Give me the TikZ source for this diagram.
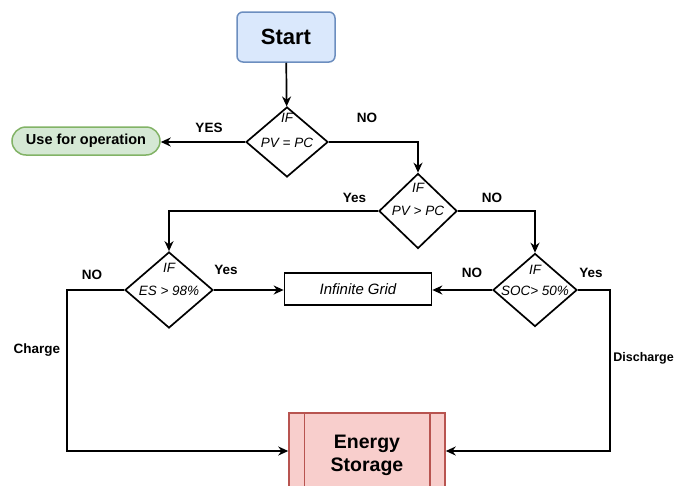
\documentclass[tikz,border=0pt]{standalone}
\usepackage{fontspec}
\setmainfont{Liberation Sans}
\usetikzlibrary{shapes.geometric,arrows.meta,calc}
\definecolor{startf}{HTML}{DAE8FC}
\definecolor{startc}{HTML}{6C8EBF}
\definecolor{usef}{HTML}{D5E8D4}
\definecolor{usec}{HTML}{82B366}
\definecolor{esf}{HTML}{F8CECC}
\definecolor{esc}{HTML}{B85450}
\begin{document}
\begin{tikzpicture}[x=1pt,y=-1pt,
  ln/.style={line width=1.7pt},
  arr/.style={ln,-{Stealth[length=10pt,width=9pt]}},
  dia/.style={diamond,draw,line width=1.7pt,inner sep=0pt},
  dtxt/.style={font=\itshape\fontsize{13.5}{15}\selectfont},
  lbl/.style={font=\bfseries\fontsize{13.5}{15}\selectfont}]
\clip (0,0) rectangle (675,485);
\fill[white] (0,0) rectangle (675,485);

\node[draw=startc, fill=startf, line width=1.5pt, rounded corners=6pt,
  minimum width=98pt, minimum height=50pt,
  font=\bfseries\fontsize{22}{25}\selectfont] (start) at (286,37) {Start};
\node[draw=usec, fill=usef, line width=1.5pt, rounded corners=14pt,
  minimum width=148pt, minimum height=28pt,
  font=\bfseries\fontsize{14.5}{16}\selectfont] (use) at (86,141) {Use for operation};

\node[dia, minimum width=82pt, minimum height=70pt] (d1) at (287,142) {};
\node[dtxt] (d1a) at (287,118) {IF};
\node[dtxt] (d1b) at (287,143) {PV = PC};

\node[dia, minimum width=78pt, minimum height=75pt] (d2) at (418,211) {};
\node[dtxt] (d2a) at (418,188) {IF};
\node[dtxt] (d2b) at (418,211) {PV > PC};

\node[dia, minimum width=88pt, minimum height=76pt] (d3) at (169,290) {};
\node[dtxt] (d3a) at (169,268) {IF};
\node[dtxt] (d3b) at (169,291) {ES > 98\%};

\node[dia, minimum width=84pt, minimum height=73pt] (d4) at (535,290) {};
\node[dtxt] (d4a) at (535,270) {IF};
\node[dtxt] (d4b) at (535,291) {SOC> 50\%};

\node[draw, line width=1.7pt, minimum width=147pt, minimum height=32pt,
  font=\itshape\fontsize{15}{17}\selectfont] (grid) at (358,289) {Infinite Grid};

\node[draw=esc, fill=esf, line width=1.5pt, minimum width=156pt, minimum height=85pt,
  align=center, font=\bfseries\fontsize{19.5}{23}\selectfont] (es) at (367,455.5) {Energy\\Storage};
\draw[esc, line width=1.5pt] ($(es.north west)+(16,0)$) -- ($(es.south west)+(16,0)$);
\draw[esc, line width=1.5pt] ($(es.north east)+(-16,0)$) -- ($(es.south east)+(-16,0)$);

\draw[arr] (start) -- (d1);
\draw[arr] (d1.west) -- (d1.west -| use.east);
\draw[arr] (d1.east) -| (d2.north);
\draw[arr] (d2.west) -| (d3.north);
\draw[arr] (d2.east) -| (d4.north);
\draw[arr] (d3.east) -- (d3.east -| grid.west);
\draw[arr] (d4.west) -- (d4.west -| grid.east);
\coordinate (cl) at (67,451);
\coordinate (cr) at (610,451);
\draw[arr] (d3.west) -| (cl) -- (cl -| es.west);
\draw[arr] (d4.east) -| (cr) -- (cr -| es.east);

\node[lbl] (l1) at (209,128) {YES};
\node[lbl] (l2) at (367,117.5) {NO};
\node[lbl] (l3) at (354.5,197.5) {Yes};
\node[lbl] (l4) at (492,197.5) {NO};
\node[lbl] (l5) at (92,275) {NO};
\node[lbl] (l6) at (226,270) {Yes};
\node[lbl] (l7) at (472,273) {NO};
\node[lbl] (l8) at (591,273) {Yes};
\node[lbl] (l9) at (37,350) {Charge};
\node[lbl, font=\bfseries\fontsize{12.5}{14}\selectfont, anchor=east, inner sep=0pt] (l10) at (674,358) {Discharge};
\end{tikzpicture}
\end{document}
